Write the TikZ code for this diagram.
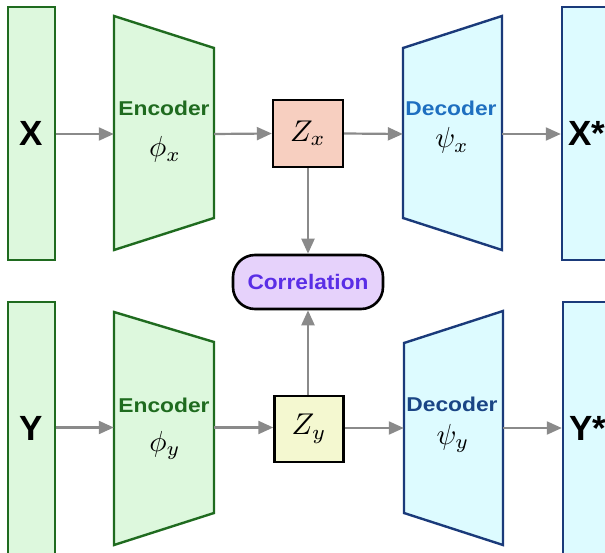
\documentclass[tikz,border=0pt]{standalone}
\usepackage{fontspec}
\usetikzlibrary{arrows.meta}
\newfontfamily\hv{Liberation Sans}
\definecolor{gfill}{HTML}{DDF8DD}
\definecolor{gline}{HTML}{1F6B1F}
\definecolor{cfill}{HTML}{DDFBFF}
\definecolor{nline}{HTML}{1A3A7A}
\definecolor{dectop}{HTML}{1E6FC0}
\definecolor{decbot}{HTML}{1A4585}
\definecolor{zxfill}{HTML}{F7CFC0}
\definecolor{zyfill}{HTML}{F4F8D0}
\definecolor{corfill}{HTML}{E6D2FB}
\definecolor{cortext}{HTML}{5A2EE6}
\definecolor{arr}{HTML}{8A8A8A}
\begin{document}
\begin{tikzpicture}[x=1pt,y=-1pt,
  databox/.style={draw,line width=2.4pt,inner sep=0pt,minimum width=47pt,minimum height=253pt,font=\hv\bfseries\fontsize{35}{35}\selectfont},
  zbox/.style={draw=black,line width=2.4pt,inner sep=0pt,minimum width=69pt,minimum height=66pt},
  body/.style={inner sep=0pt,minimum width=100pt,minimum height=170pt},
  lbl/.style={anchor=base,inner sep=0pt,font=\hv\bfseries\fontsize{20}{20}\selectfont},
  mlbl/.style={anchor=base,inner sep=0pt},
  conn/.style={draw=arr,line width=2.2pt,-{Triangle[length=15pt,width=13pt]}}]
\clip (0,0) rectangle (605,553);
% input / output boxes
\node[databox,draw=gline,fill=gfill] (X) at (31.5,133.5) {X};
\node[databox,draw=gline,fill=gfill,minimum height=263pt] (Y) at (31.5,433.5) {};
\node[inner sep=0pt,font=\hv\bfseries\fontsize{35}{35}\selectfont] (Ylbl) at (31.5,428) {Y};
\node[databox,draw=nline,fill=cfill,minimum width=50pt] (Xs) at (587,133.5) {X*};
\node[databox,draw=nline,fill=cfill,minimum width=50pt,minimum height=263pt] (Ys) at (588,433.5) {};
\node[inner sep=0pt,font=\hv\bfseries\fontsize{35}{35}\selectfont] (Yslbl) at (588,428) {Y*};
% encoders
\draw[gline,fill=gfill,line width=2.4pt,line join=miter] (114,16) -- (214,48) -- (214,218) -- (114,250) -- cycle;
\draw[gline,fill=gfill,line width=2.4pt,line join=miter] (114,312) -- (214,342) -- (214,513) -- (114,545) -- cycle;
\node[body] (E1) at (164,134) {};
\node[body] (E2) at (164,427.5) {};
\node[lbl,text=gline] (E1t) at (164,116) {\scalebox{1.14}[1]{Encoder}};
\node[mlbl] (E1m) at (165,157) {\scalebox{2.9}{$\phi_x$}};
\node[lbl,text=gline] (E2t) at (164,412) {\scalebox{1.14}[1]{Encoder}};
\node[mlbl] (E2m) at (165,451) {\scalebox{2.9}{$\phi_y$}};
% decoders
\draw[nline,fill=cfill,line width=2.4pt,line join=miter] (403,48) -- (502,16) -- (502,250) -- (403,218) -- cycle;
\draw[nline,fill=cfill,line width=2.4pt,line join=miter] (404,343) -- (503,311) -- (503,545) -- (404,513) -- cycle;
\node[body,minimum width=99pt] (D1) at (452.5,134) {};
\node[body,minimum width=99pt] (D2) at (453.5,428) {};
\node[lbl,text=dectop] (D1t) at (451,116) {\scalebox{1.14}[1]{Decoder}};
\node[mlbl] (D1m) at (452,148) {\scalebox{2.9}{$\psi_x$}};
\node[lbl,text=decbot] (D2t) at (452,411) {\scalebox{1.14}[1]{Decoder}};
\node[mlbl] (D2m) at (453,444) {\scalebox{2.9}{$\psi_y$}};
% latent codes
\node[zbox,fill=zxfill,minimum width=70pt,minimum height=67pt] (Zx) at (308,133.5) {\scalebox{3}{$Z_x$}};
\node[zbox,fill=zyfill] (Zy) at (309,429) {\scalebox{3}{$Z_y$}};
% correlation
\node[draw=black,line width=2.6pt,fill=corfill,rounded corners=22pt,minimum width=150pt,minimum height=54pt,inner sep=0pt,text=cortext,font=\hv\bfseries\fontsize{21}{21}\selectfont] (C) at (308,282) {\scalebox{1.08}[1]{Correlation}};
% connectors
\draw[conn] (X.east |- E1.west) -- (E1.west);
\draw[conn] (E1.east) -- (Zx.west);
\draw[conn] (Zx.east) -- (D1.west);
\draw[conn] (D1.east) -- (Xs.west |- D1.east);
\draw[conn] (Y.east |- E2.west) -- (E2.west);
\draw[conn] (E2.east) -- (Zy.west |- E2.east);
\draw[conn] (Zy.east |- D2.west) -- (D2.west);
\draw[conn] (D2.east) -- (Ys.west |- D2.east);
\draw[conn] (Zx.south) -- (C.north -| Zx.south);
\draw[conn] (Zy.north -| C.south) -- (C.south);
\end{tikzpicture}
\end{document}
